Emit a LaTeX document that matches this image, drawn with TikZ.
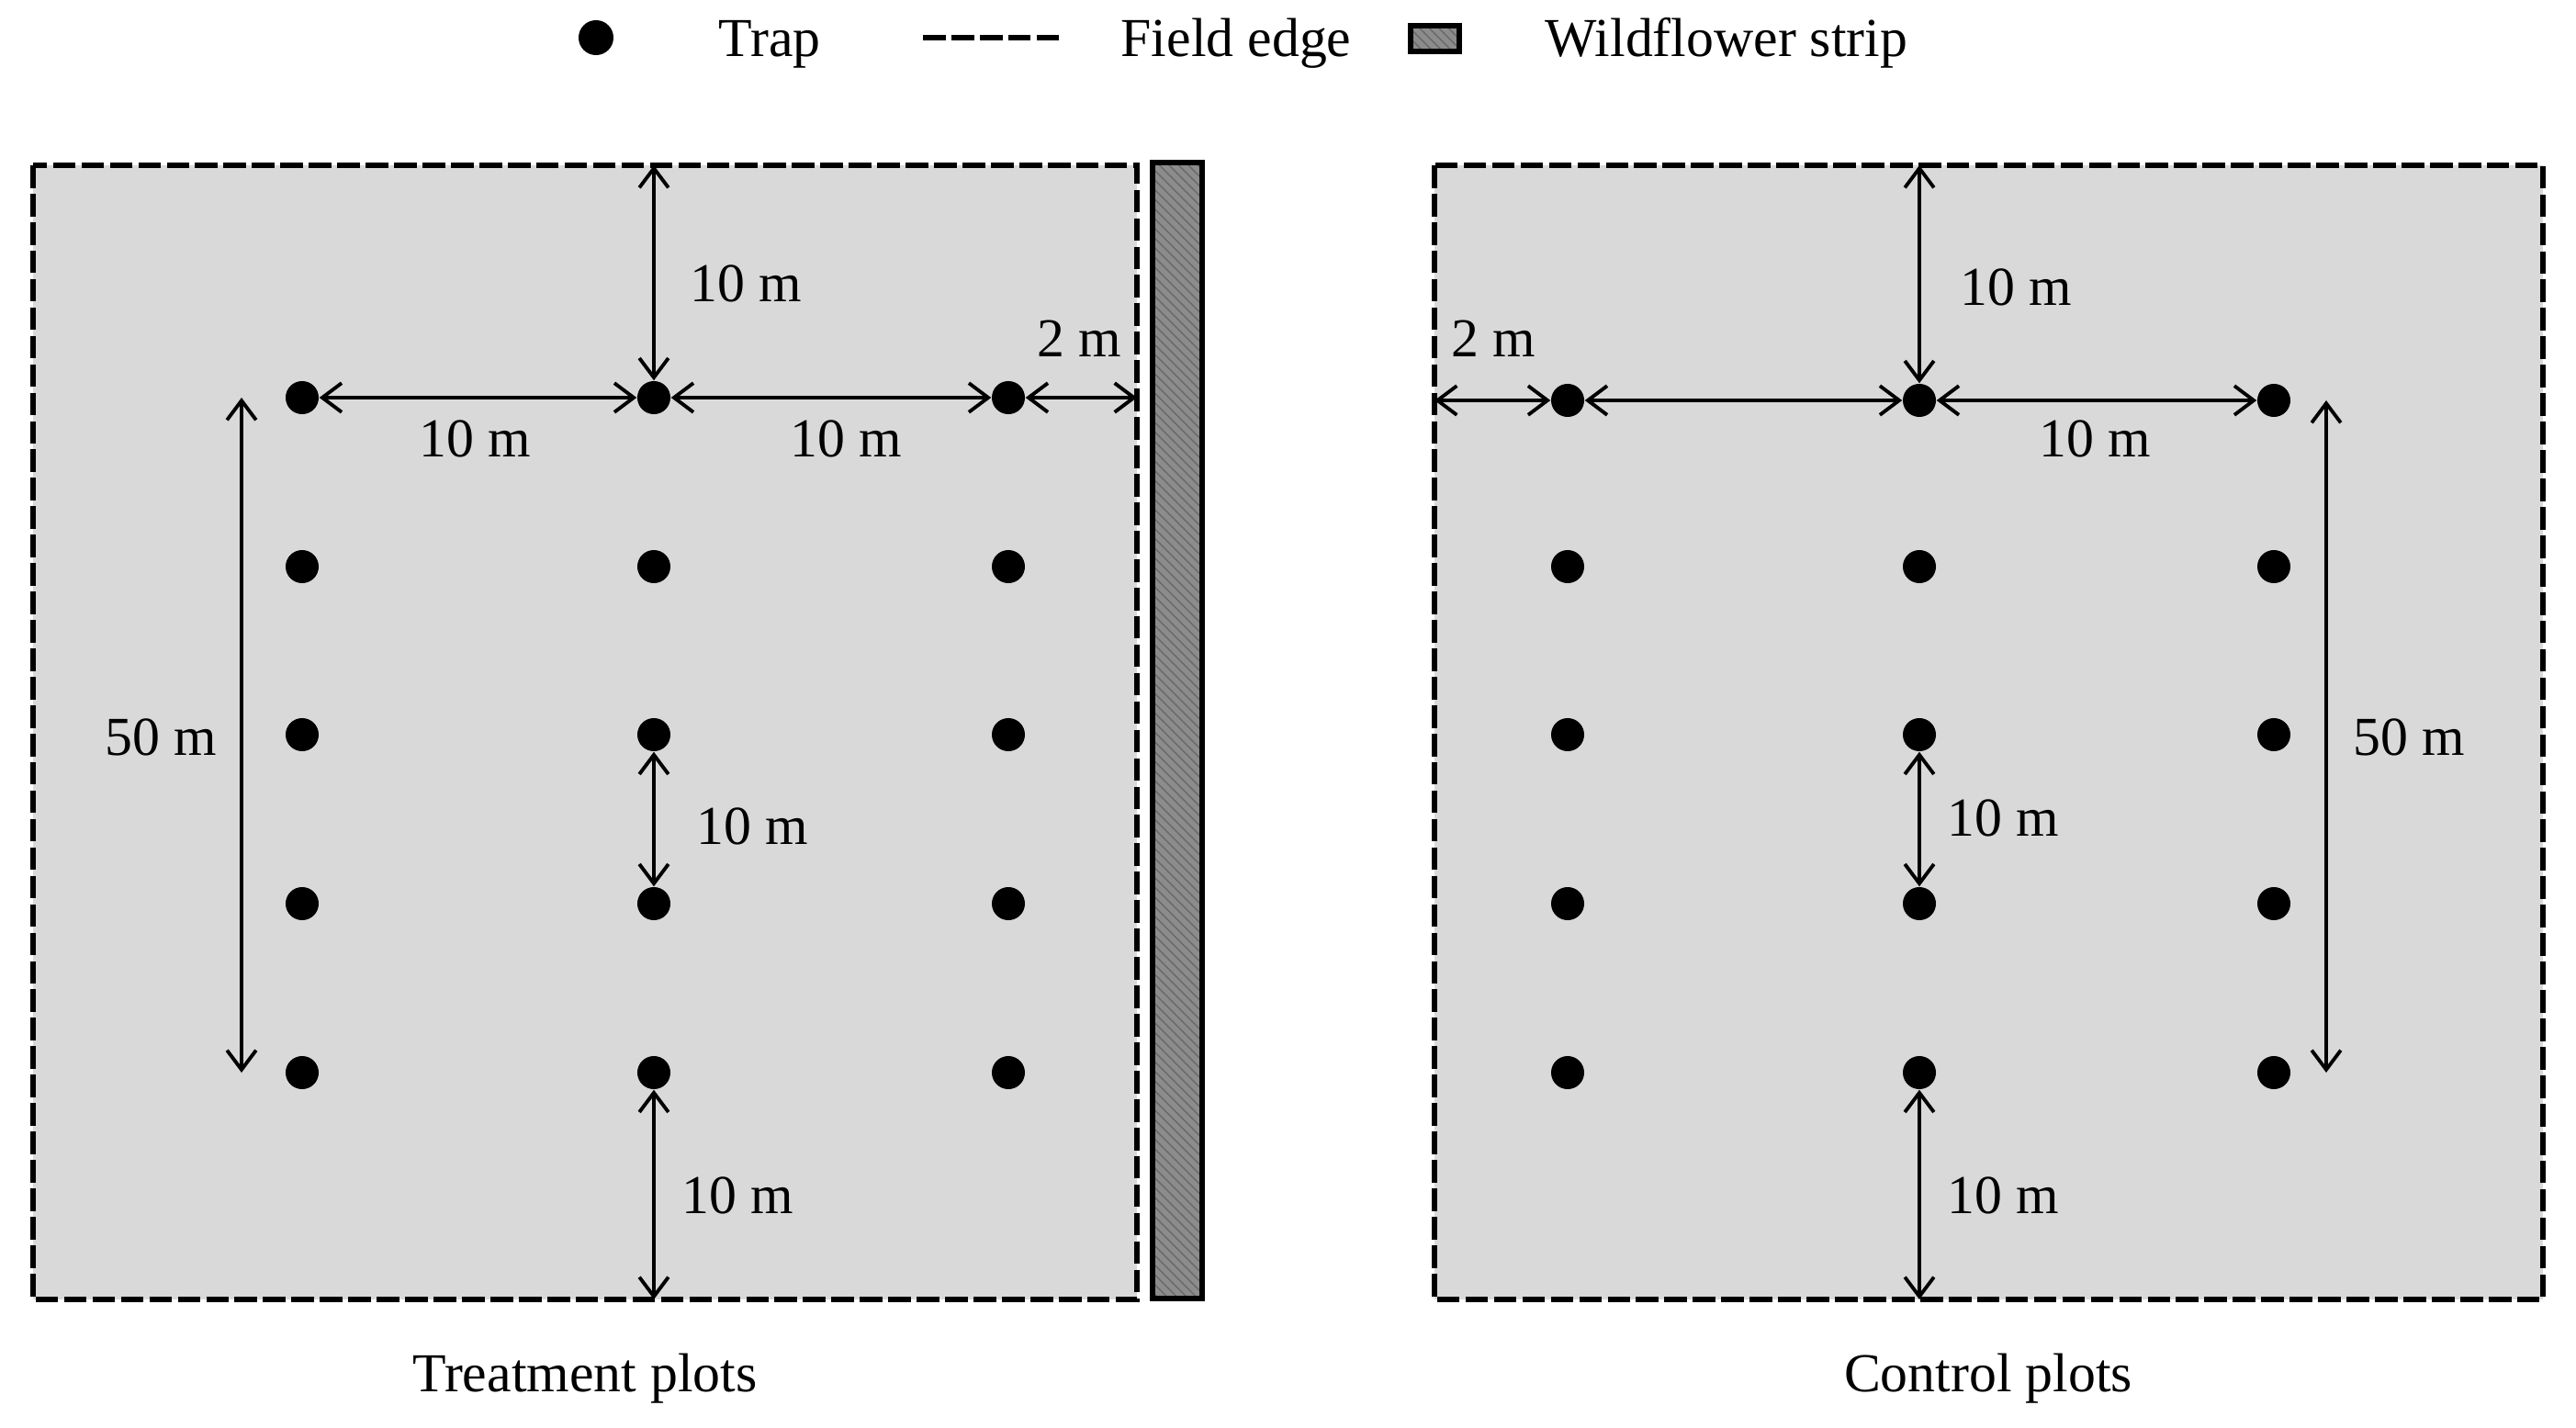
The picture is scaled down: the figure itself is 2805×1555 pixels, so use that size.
\documentclass[tikz,border=0pt]{standalone}
\usepackage{fontspec}
\setmainfont{Liberation Serif}
\usetikzlibrary{arrows.meta,patterns}
\definecolor{plotgray}{RGB}{217,217,217}
\definecolor{stripgray}{RGB}{140,140,140}
\definecolor{stripline}{RGB}{105,105,105}
\begin{document}
\begin{tikzpicture}[x=0.01cm,y=-0.01cm,
  trap/.style={circle,fill=black,inner sep=0pt,minimum size=0.36cm},
  dimarrow/.style={{Straight Barb[length=6pt,width=9pt]}-{Straight Barb[length=6pt,width=9pt]}, line width=1.1pt},
  fieldedge/.style={line width=1.7pt, dash pattern=on 7pt off 1.8pt},
  lbl/.style={font=\fontsize{17}{20}\selectfont, inner sep=0pt},
  stripbox/.style={line width=1.7pt, draw=black},
]
\useasboundingbox (0,0) rectangle (2805,1555);

% ---------- legend ----------
\node[trap, minimum size=0.38cm] (legdot) at (649,41) {};
\node[lbl, anchor=base west] (legtrap) at (782,62) {Trap};
\coordinate (legdashA) at (1005,41);
\coordinate (legdashB) at (1159,41);
\draw[fieldedge] (legdashA) -- (legdashB);
\node[lbl, anchor=base west] (legedge) at (1220,62) {Field edge};
\fill[stripgray] (1536,28) rectangle (1589,56);
\fill[pattern=north west lines, pattern color=stripline] (1536,28) rectangle (1589,56);
\draw[stripbox] (1536,28) rectangle (1589,56);
\node[lbl, anchor=base west] (legstrip) at (1682,62) {Wildflower strip};

% ---------- treatment plot ----------
\fill[plotgray] (36,180) rectangle (1238,1415);
\draw[fieldedge] (36,180) rectangle (1238,1415);
\fill[stripgray] (1255,177) rectangle (1309,1414);
\fill[pattern=north west lines, pattern color=stripline] (1255,177) rectangle (1309,1414);
\draw[stripbox] (1255,177) rectangle (1309,1414);

\foreach \c/\x in {1/329,2/712,3/1098}{
  \foreach \r/\y in {1/433,2/617,3/800,4/984,5/1168}{
    \node[trap] (L\c\r) at (\x,\y) {};
  }
}
\coordinate (LtopE) at (712,180);
\coordinate (LbotE) at (712,1415);
\coordinate (LrightE) at (1238,433);
\coordinate (L50a) at (263,433);
\coordinate (L50b) at (263,1168);

\draw[dimarrow] (LtopE) -- (L21);
\draw[dimarrow] (L11) -- (L21);
\draw[dimarrow] (L21) -- (L31);
\draw[dimarrow] (L31) -- (LrightE);
\draw[dimarrow] (L50a) -- (L50b);
\draw[dimarrow] (L23) -- (L24);
\draw[dimarrow] (L25) -- (LbotE);

\node[lbl] (Ltxt1) at (812,309) {10 m};
\node[lbl] (Ltxt2) at (1175,369) {2 m};
\node[lbl] (Ltxt3) at (517,478) {10 m};
\node[lbl] (Ltxt4) at (921,478) {10 m};
\node[lbl] (Ltxt5) at (175,803) {50 m};
\node[lbl] (Ltxt6) at (819,900) {10 m};
\node[lbl] (Ltxt7) at (803,1302) {10 m};
\node[lbl, anchor=base] (Ltitle) at (637,1515) {Treatment plots};

% ---------- control plot ----------
\fill[plotgray] (1562,180) rectangle (2769,1415);
\draw[fieldedge] (1562,180) rectangle (2769,1415);

\foreach \c/\x in {1/1707,2/2090,3/2476}{
  \foreach \r/\y in {1/436,2/617,3/800,4/984,5/1168}{
    \node[trap] (R\c\r) at (\x,\y) {};
  }
}
\coordinate (RtopE) at (2090,180);
\coordinate (RbotE) at (2090,1415);
\coordinate (RleftE) at (1562,436);
\coordinate (R50a) at (2533,436);
\coordinate (R50b) at (2533,1168);

\draw[dimarrow] (RtopE) -- (R21);
\draw[dimarrow] (RleftE) -- (R11);
\draw[dimarrow] (R11) -- (R21);
\draw[dimarrow] (R21) -- (R31);
\draw[dimarrow] (R50a) -- (R50b);
\draw[dimarrow] (R23) -- (R24);
\draw[dimarrow] (R25) -- (RbotE);

\node[lbl] (Rtxt1) at (2195,313) {10 m};
\node[lbl] (Rtxt2) at (1626,369) {2 m};
\node[lbl] (Rtxt3) at (2281,478) {10 m};
\node[lbl] (Rtxt4) at (2623,803) {50 m};
\node[lbl] (Rtxt5) at (2181,891) {10 m};
\node[lbl] (Rtxt6) at (2181,1302) {10 m};
\node[lbl, anchor=base] (Rtitle) at (2165,1515) {Control plots};
\end{tikzpicture}
\end{document}
